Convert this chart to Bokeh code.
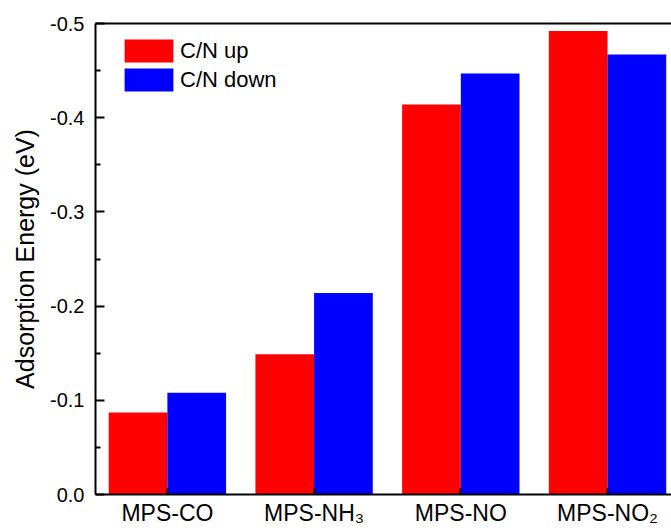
from bokeh.plotting import figure
from bokeh.models import Range1d, FixedTicker, LinearAxis, Legend, LegendItem, ColumnDataSource, NumeralTickFormatter
from bokeh.embed import file_html
from bokeh.resources import INLINE

categories = ["MPS-CO", "MPS-NH\u2083", "MPS-NO", "MPS-NO\u2082"]
cn_up = [-0.087, -0.149, -0.414, -0.492]
cn_down = [-0.108, -0.214, -0.447, -0.467]
y_major = [0.0, -0.1, -0.2, -0.3, -0.4, -0.5]
y_minor = [-0.05, -0.15, -0.25, -0.35, -0.45]

FONT = "Liberation Sans"
idx = list(range(len(categories)))

src = ColumnDataSource(dict(
    x_up=[i - 0.2 for i in idx],
    x_down=[i + 0.2 for i in idx],
    up=cn_up,
    down=cn_down,
))

p = figure(width=671, height=528, output_backend="svg", toolbar_location=None,
           x_range=Range1d(-0.49, 3.436), y_range=Range1d(0, -0.5),
           min_border_left=95, min_border_right=0, min_border_top=23, min_border_bottom=33)

r_up = p.vbar(x="x_up", top="up", bottom=0, width=0.4, source=src,
              fill_color="#ff0000", line_color=None)
r_down = p.vbar(x="x_down", top="down", bottom=0, width=0.4, source=src,
                fill_color="#0000ff", line_color=None)

p.xgrid.visible = False
p.ygrid.visible = False
p.outline_line_color = None
p.background_fill_color = "white"
p.border_fill_color = "white"

xa = p.xaxis[0]
xa.ticker = FixedTicker(ticks=idx)
xa.major_label_overrides = {i: c for i, c in zip(idx, categories)}
xa.major_label_text_font = FONT
xa.major_label_text_font_size = "23px"
xa.major_label_text_color = "black"
xa.major_label_standoff = 5
xa.axis_line_width = 2
xa.axis_line_color = "black"
xa.major_tick_in = 6
xa.major_tick_out = 0
xa.major_tick_line_width = 2
xa.minor_tick_in = 0
xa.minor_tick_out = 0

ya = p.yaxis[0]
ya.ticker = FixedTicker(ticks=y_major, minor_ticks=y_minor)
ya.formatter = NumeralTickFormatter(format="0.0")
ya.major_label_text_font = FONT
ya.major_label_text_font_size = "20px"
ya.major_label_text_color = "black"
ya.major_label_standoff = 11
ya.axis_line_width = 2
ya.axis_line_color = "black"
ya.major_tick_in = 9
ya.major_tick_out = 0
ya.major_tick_line_width = 2
ya.minor_tick_in = 5
ya.minor_tick_out = 0
ya.minor_tick_line_width = 2
ya.axis_label = "Adsorption Energy (eV)"
ya.axis_label_text_font = FONT
ya.axis_label_text_font_size = "25px"
ya.axis_label_text_font_style = "normal"
ya.axis_label_text_color = "black"
ya.axis_label_standoff = 8

top = LinearAxis(ticker=FixedTicker(ticks=[]), major_label_text_font_size="0px",
                 axis_line_width=2, axis_line_color="black",
                 major_tick_in=0, major_tick_out=0, minor_tick_in=0, minor_tick_out=0)
p.add_layout(top, "above")

legend = Legend(items=[LegendItem(label="C/N up", renderers=[r_up]),
                       LegendItem(label="C/N down", renderers=[r_down])],
                location=(23, 400), glyph_width=61, glyph_height=29, spacing=0,
                padding=0, margin=0, border_line_color=None, background_fill_alpha=0,
                label_text_font=FONT, label_text_font_size="22px", label_standoff=1,
                label_text_color="black")
p.add_layout(legend)

open("out.html", "w").write(file_html(p, INLINE))
